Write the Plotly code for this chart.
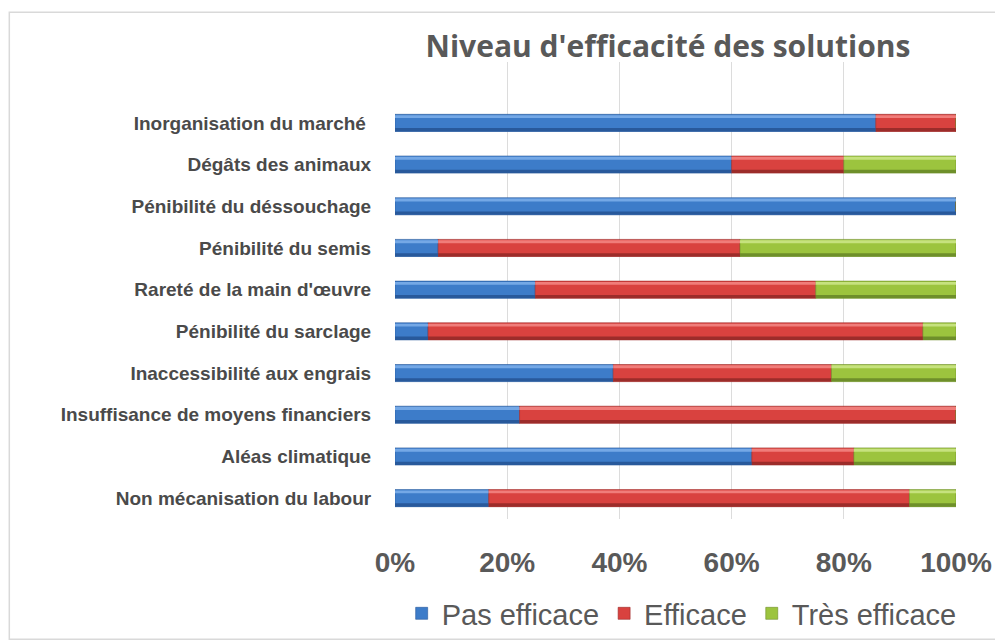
import plotly.graph_objects as go

categories = [
    "Inorganisation du marché ",
    "Dégâts des animaux",
    "Pénibilité du déssouchage",
    "Pénibilité du semis",
    "Rareté de la main d'œuvre",
    "Pénibilité du sarclage",
    "Inaccessibilité aux engrais",
    "Insuffisance de moyens financiers",
    "Aléas climatique",
    "Non mécanisation du labour",
]
pas_efficace = [85.7, 60.0, 100.0, 7.7, 25.0, 5.9, 38.9, 22.2, 63.6, 16.7]
efficace = [14.3, 20.0, 0.0, 53.8, 50.0, 88.2, 38.9, 77.8, 18.2, 75.0]
tres_efficace = [0.0, 20.0, 0.0, 38.5, 25.0, 5.9, 22.2, 0.0, 18.2, 8.3]

series_names = ["Pas efficace", "Efficace", "Très efficace"]
series_values = [pas_efficace, efficace, tres_efficace]
fill_colors = ["#3d7cc9", "#d9423f", "#9cc43e"]
light_colors = ["#74a8e6", "#f07d7a", "#c6e27e"]
dark_colors = ["#28599b", "#9c2c2a", "#6e8f2a"]

xticks = [0, 20, 40, 60, 80, 100]
xticklabels = ["0%", "20%", "40%", "60%", "80%", "100%"]

BAR_W = 0.41

fig = go.Figure()
bases = [0.0] * len(categories)
overlays = []
for name, vals, fc, lc, dc in zip(series_names, series_values, fill_colors, light_colors, dark_colors):
    fig.add_trace(go.Bar(
        y=categories, x=vals, base=list(bases), name=name, orientation="h",
        width=BAR_W, marker=dict(color=fc, line=dict(color=dc, width=0.6)),
    ))
    overlays.append((list(vals), list(bases), lc, dc))
    bases = [b + v for b, v in zip(bases, vals)]

# bevel effect: light strip on top, dark strip at bottom
for vals, bs, lc, dc in overlays:
    fig.add_trace(go.Bar(
        y=categories, x=vals, base=bs, orientation="h", showlegend=False,
        width=0.07, offset=-BAR_W / 2 + 0.02, hoverinfo="skip",
        marker=dict(color=lc, line=dict(width=0)),
    ))
    fig.add_trace(go.Bar(
        y=categories, x=vals, base=bs, orientation="h", showlegend=False,
        width=0.08, offset=BAR_W / 2 - 0.08, hoverinfo="skip",
        marker=dict(color=dc, line=dict(width=0)),
    ))

fig.update_layout(
    width=995, height=634,
    barmode="overlay",
    paper_bgcolor="white", plot_bgcolor="white",
    margin=dict(l=387, r=47, t=54, b=123, autoexpand=False),
    title=dict(
        text="<b>Niveau d'efficacité des solutions</b>",
        x=0.6633, xanchor="center", y=0.940, yanchor="middle",
        font=dict(family="Open Sans, sans-serif", size=30, color="#595959"),
    ),
    xaxis=dict(
        range=[0, 100], tickvals=xticks, ticktext=xticklabels,
        showgrid=True, gridcolor="#dcdcdc", gridwidth=1, zeroline=False,
        ticks="outside", ticklen=18, tickcolor="rgba(0,0,0,0)",
        tickfont=dict(family="Liberation Sans Narrow, Arial Narrow, sans-serif",
                      size=28, color="#595959", weight="bold"),
        fixedrange=True, automargin=False,
    ),
    yaxis=dict(
        categoryorder="array", categoryarray=categories,
        autorange=False, range=[9.5, -1.46],
        showgrid=False, zeroline=False,
        ticks="outside", ticklen=19, tickcolor="rgba(0,0,0,0)",
        tickfont=dict(family="Liberation Sans, Arial, sans-serif", size=19,
                      color="#4a4a4a", weight="bold"),
        automargin=False,
    ),
    legend=dict(
        orientation="h", x=0.511, xanchor="center",
        yref="container", y=0.045, yanchor="middle",
        font=dict(family="Liberation Sans, Arial, sans-serif", size=29, color="#595959"),
        traceorder="normal", bgcolor="rgba(0,0,0,0)",
    ),
    shapes=[dict(type="rect", xref="paper", yref="paper",
                 x0=-0.6875, x1=1.078, y0=-0.263, y1=1.109,
                 line=dict(color="#d9d9d9", width=1.5), fillcolor="rgba(0,0,0,0)",
                 layer="below")],
)

fig.write_html("out.html")
